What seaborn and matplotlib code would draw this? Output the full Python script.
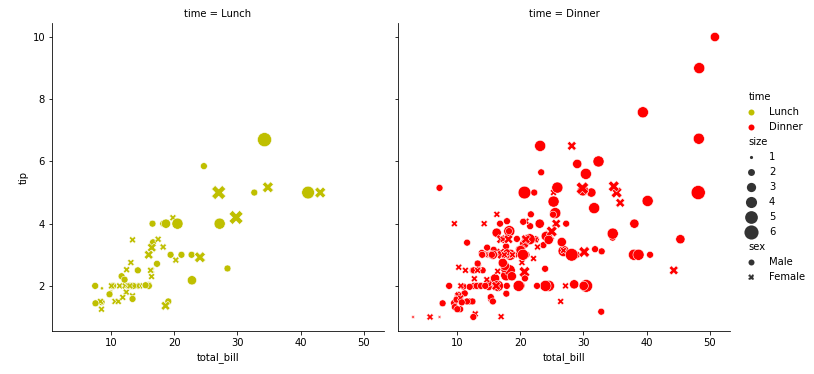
import matplotlib
matplotlib.use("Agg")
import matplotlib.pyplot as plt
import matplotlib.offsetbox as obox
import seaborn as sns
import pandas as pd

total_bill = [16.99,10.34,21.01,23.68,24.59,25.29,8.77,26.88,15.04,14.78,
10.27,35.26,15.42,18.43,14.83,21.58,10.33,16.29,16.97,20.65,
17.92,20.29,15.77,39.42,19.82,17.81,13.37,12.69,21.70,19.65,
9.55,18.35,15.06,20.69,17.78,24.06,16.31,16.93,18.69,31.27,
16.04,17.46,13.94,9.68,30.40,18.29,22.23,32.40,28.55,18.04,
12.54,10.29,34.81,9.94,25.56,19.49,38.01,26.41,11.24,48.27,
20.29,13.81,11.02,18.29,17.59,20.08,16.45,3.07,20.23,15.01,
12.02,17.07,26.86,25.28,14.73,10.51,17.92,27.20,22.76,17.29,
19.44,16.66,10.07,32.68,15.98,34.83,13.03,18.28,24.71,21.16,
28.97,22.49,5.75,16.32,22.75,40.17,27.28,12.03,21.01,12.46,
11.35,15.38,44.30,22.42,20.92,15.36,20.49,25.21,18.24,14.31,
14.00,7.25,38.07,23.95,25.71,17.31,29.93,10.65,12.43,24.08,
11.69,13.42,14.26,15.95,12.48,29.80,8.52,14.52,11.38,22.82,
19.08,20.27,11.17,12.26,18.26,8.51,10.33,14.15,16.00,13.16,
17.47,34.30,41.19,27.05,16.43,8.35,18.64,11.87,9.78,7.51,
14.07,13.13,17.26,24.55,19.77,29.85,48.17,25.00,13.39,16.49,
21.50,12.66,16.21,13.81,17.51,24.52,20.76,31.71,10.59,10.63,
50.81,15.81,7.25,31.85,16.82,32.90,17.89,14.48,9.60,34.63,
34.65,23.33,45.35,23.17,40.55,20.69,20.90,30.46,18.15,23.10,
15.69,19.81,28.44,15.48,16.58,7.56,10.34,43.11,13.00,13.51,
18.71,12.74,13.00,16.40,20.53,16.47,26.59,38.73,24.27,12.76,
30.06,25.89,48.33,13.27,28.17,12.90,28.15,11.59,7.74,30.14,
12.16,13.42,8.58,15.98,13.42,16.27,10.09,20.45,13.28,22.12,
24.01,15.69,11.61,10.77,15.53,10.07,12.60,32.83,35.83,29.03,
27.18,22.67,17.82,18.78]

tip = [1.01,1.66,3.50,3.31,3.61,4.71,2.00,3.12,1.96,3.23,
1.71,5.00,1.57,3.00,3.02,3.92,1.67,3.71,3.50,3.35,
4.08,2.75,2.23,7.58,3.18,2.34,2.00,2.00,4.30,3.00,
1.45,2.50,3.00,2.45,3.27,3.60,2.00,3.07,2.31,5.00,
2.24,2.54,3.06,1.32,5.60,3.00,5.00,6.00,2.05,3.00,
2.50,2.60,5.20,1.56,4.34,3.51,3.00,1.50,1.76,6.73,
3.21,2.00,1.98,3.76,2.64,3.15,2.47,1.00,2.01,2.09,
1.97,3.00,3.14,5.00,2.20,1.25,3.08,4.00,3.00,2.71,
3.00,3.40,1.83,5.00,2.03,5.17,2.00,4.00,5.85,3.00,
3.00,3.50,1.00,4.30,3.25,4.73,4.00,1.50,3.00,1.50,
2.50,3.00,2.50,3.48,4.08,1.64,4.06,4.29,3.76,4.00,
3.00,1.00,4.00,2.55,4.00,3.50,5.07,1.50,1.80,2.92,
2.31,1.68,2.50,2.00,2.52,4.20,1.48,2.00,2.00,2.18,
1.50,2.83,1.50,2.00,3.25,1.25,2.00,2.00,2.00,2.75,
3.50,6.70,5.00,5.00,2.30,1.50,1.36,1.63,1.73,2.00,
2.50,2.00,2.74,2.00,2.00,5.14,5.00,3.75,2.61,2.00,
3.50,2.50,2.00,2.00,3.00,3.48,2.24,4.50,1.61,2.00,
10.00,3.16,5.15,3.18,4.00,3.11,2.00,2.00,4.00,3.55,
3.68,5.65,3.50,6.50,3.00,5.00,3.50,2.00,3.50,4.00,
1.50,4.19,2.56,2.02,4.00,1.44,2.00,5.00,2.00,2.00,
4.00,2.01,2.00,2.50,4.00,3.23,3.41,3.00,2.03,2.23,
2.00,5.16,9.00,2.50,6.50,1.10,3.00,1.50,1.44,3.09,
2.20,3.48,1.92,3.00,1.58,2.50,2.00,3.00,2.72,2.88,
2.00,3.00,3.39,1.47,3.00,1.25,1.00,1.17,4.67,5.92,
2.00,2.00,1.75,3.00]

party_size = [2,3,3,2,4,4,2,4,2,2,
2,4,2,4,2,2,3,3,3,3,
2,2,2,4,2,4,2,2,2,2,
2,4,2,4,2,3,3,3,3,3,
3,2,2,2,4,2,2,4,3,2,
2,2,4,2,4,2,4,2,2,4,
2,2,2,4,3,3,2,1,2,2,
2,3,2,2,2,2,2,4,2,2,
2,2,1,2,2,4,2,2,2,2,
2,2,2,2,2,4,2,2,2,2,
2,2,3,2,2,2,2,2,2,2,
2,1,3,2,3,2,4,2,2,4,
2,2,2,2,2,6,2,2,2,3,
2,2,2,2,2,2,2,2,2,2,
2,6,5,6,2,2,3,2,2,2,
2,2,3,4,4,5,6,4,2,4,
4,2,3,2,2,3,2,4,2,2,
3,2,2,2,2,2,2,2,2,2,
4,2,3,4,2,5,3,5,3,3,
2,2,2,2,2,2,2,4,2,2,
3,2,2,2,4,3,3,4,2,2,
3,4,4,2,3,2,5,2,2,4,
2,2,1,3,2,2,2,4,2,2,
4,3,2,2,2,2,2,2,3,3,
2,2,2,2]

sex_codes = ("FMMMFMMMMM" "MFMMFMFMFM" "MFFMMMMMMF" "MMFFMMMFMM" "MMMMMMMMMM"
             "MFFMMMMFMM" "MMMMMMFFMM" "MFFFFMMMMM" "MMFMMFMMMM" "MMFFFMMMMM"
             "FFFFFMMMMF" "MFMMFFMFFF" "MFMMFFMFFM" "MFFFFFFFMF" "FMMFFFFFMM"
             "MMMMMFMFFM" "MMFMFMMMFF" "MMMMMMMMFM" "MMMMMMFMFM" "MFMMMMMFFM"
             "MFFFMFMMMF" "MMMFFFMMMF" "MFMFMFFMMF" "MMMMMMMMFM" "FMMF")

time_codes = ("DDDDDDDDDD" "DDDDDDDDDD" "DDDDDDDDDD" "DDDDDDDDDD" "DDDDDDDDDD"
              "DDDDDDDDDD" "DDDDDDDDDD" "DDDDDDDLLL" "LLLLLLLLLL" "DDDDDDDDDD"
              "DDDDDDDDDD" "DDDDDDDLLL" "LLLLLLLLLL" "LLLLLLLLLL" "LLLLLLLLLL"
              "DDDDDDDDDD" "DDDDDDDDDD" "DDDDDDDDDD" "DDDDDDDDDD" "DLLLLLLLLL"
              "LLLLLLDDDD" "DDDDDDDDDD" "LLLLLLLDDD" "DDDDDDDDDD" "DDDD")

time_order = ["Lunch", "Dinner"]
sex_order = ["Male", "Female"]
size_levels = ["1", "2", "3", "4", "5", "6"]
subtitles = ["time", "size", "sex"]
palette = ["y", "r"]

sex_names = {"M": "Male", "F": "Female"}
time_names = {"L": "Lunch", "D": "Dinner"}

tips = pd.DataFrame({
    "total_bill": total_bill,
    "tip": tip,
    "sex": [sex_names[c] for c in sex_codes],
    "time": [time_names[c] for c in time_codes],
    "size": party_size,
})

g = sns.relplot(
    data=tips, x="total_bill", y="tip",
    col="time", col_order=time_order,
    hue="time", hue_order=time_order,
    size="size", style="sex", style_order=sex_order,
    palette=palette, sizes=(10, 200), legend="full",
    height=5, aspect=1,
)

# Reorder legend: time, size, sex
old = g._legend
handles = list(old.legend_handles)
labels = [t.get_text() for t in old.texts]
old.remove()
g._legend = None
legend_data = dict(zip(labels, handles))
order = ["time"] + time_order + ["size"] + size_levels + ["sex"] + sex_order
g.add_legend(legend_data=legend_data, label_order=order, adjust_subtitles=True)

fig = g.figure
fig.set_size_inches(814 / 72, 374 / 72)
fig.subplots_adjust(left=52 / 814, right=730 / 814, bottom=1 - 331 / 374,
                    top=1 - 23 / 374, wspace=14 / 332)
for ax, name in zip(g.axes.flat, time_order):
    ax.set_title(f"time = {name}", fontsize=10)

leg = g._legend
vp = leg.findobj(obox.VPacker)[0]
for hpack in vp.get_children():
    kids = hpack.get_children()
    if len(kids) != 2:
        continue
    draw_area, text_area = kids
    texts = [c for c in text_area.get_children() if hasattr(c, "get_text")]
    if texts and texts[0].get_text() in subtitles:
        draw_area.set_width(0)
        for h in draw_area.get_children():
            h.set_visible(False)
leg.set_bbox_to_anchor((1.0, 0.5), transform=fig.transFigure)

fig.savefig("out.png", dpi=72)
